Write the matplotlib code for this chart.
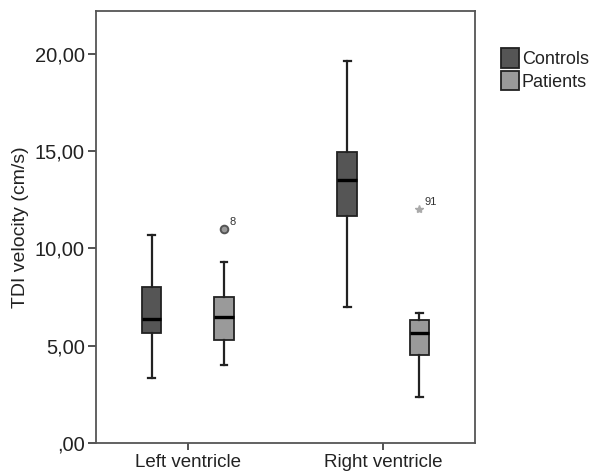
import matplotlib
matplotlib.use('Agg')
import matplotlib.pyplot as plt
from matplotlib.patches import Patch
from matplotlib.ticker import FuncFormatter

plt.rcParams['font.family'] = ['Liberation Sans', 'DejaVu Sans']

## 数据：箱线图五数概括
groups = ['Left ventricle', 'Right ventricle']
series = ['Controls', 'Patients']
colors = ['#555555', '#9a9a9a']

# [whislo, q1, med, q3, whishi]
controls = [[3.33, 5.66, 6.35, 8.0, 10.7],
            [7.0, 11.67, 13.5, 14.97, 19.65]]
patients = [[4.0, 5.3, 6.5, 7.5, 9.3],
            [2.36, 4.5, 5.66, 6.3, 6.67]]
# outliers: (value, case label)
patients_outliers = [(11.0, '8'), (12.0, '91')]
outlier_markers = ['o', '*']

yticks = [0, 5, 10, 15, 20]

fig = plt.figure(figsize=(5.98, 4.72), dpi=100)
ax = fig.add_axes([0.1605, 0.0614, 0.634, 0.9153])

centers = [1, 2]
offset = 0.185
width = 0.1

for i, (vals, color, sign) in enumerate(zip([controls, patients], colors, [-1, 1])):
    stats = []
    for g, v in enumerate(vals):
        stats.append(dict(whislo=v[0], q1=v[1], med=v[2], q3=v[3], whishi=v[4], fliers=[]))
    pos = [c + sign * offset for c in centers]
    bp = ax.bxp(stats, positions=pos, widths=width, patch_artist=True,
                showfliers=False,
                boxprops=dict(facecolor=color, edgecolor='#222222', linewidth=1.3),
                medianprops=dict(color='black', linewidth=2.4),
                whiskerprops=dict(color='#222222', linewidth=1.6),
                capprops=dict(color='#222222', linewidth=1.6),
                capwidths=width * 0.35)

# patients' outliers
for g, ((val, lab), mk) in enumerate(zip(patients_outliers, outlier_markers)):
    x = centers[g] + offset
    if mk == 'o':
        ax.plot(x, val, marker='o', markersize=5.5, markerfacecolor='#999999',
                markeredgecolor='#555555', markeredgewidth=1.4, linestyle='none')
    else:
        ax.plot(x, val, marker='*', markersize=6, color='#aaaaaa', linestyle='none')
    ax.annotate(lab, (x, val), xytext=(4, 3), textcoords='offset points',
                fontsize=8, color='#333333')

ax.set_xlim(0.53, 2.47)
ax.set_ylim(0, 22.2)
ax.set_xticks(centers)
ax.set_xticklabels(groups, fontsize=13.5, color='#222222')
ax.set_yticks(yticks)
ax.yaxis.set_major_formatter(FuncFormatter(lambda v, p: (',00' if v == 0 else f'{v:.2f}'.replace('.', ','))))
ax.tick_params(axis='y', labelsize=14.5, length=6, width=1.3, color='#444444', labelcolor='#222222', pad=2)
ax.tick_params(axis='x', length=5, width=1.3, color='#444444', pad=3)
ax.set_ylabel('TDI velocity (cm/s)', fontsize=14, labelpad=4, color='#222222')
for s in ax.spines.values():
    s.set_color('#555555')
    s.set_linewidth(1.3)

handles = [Patch(facecolor=c, edgecolor='#222222', linewidth=1.3, label=l) for c, l in zip(colors, series)]
fig.legend(handles=handles, loc='upper left', bbox_to_anchor=(0.838, 0.898),
           frameon=False, fontsize=13, handlelength=1.0, handleheight=1.3,
           handletextpad=0.15, labelspacing=0.15, borderpad=0, borderaxespad=0,
           labelcolor='#222222')

fig.savefig('out.png', dpi=100)
